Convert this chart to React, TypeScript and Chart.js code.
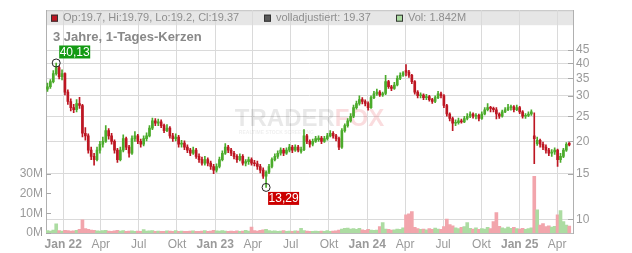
import React, { useEffect, useRef } from 'react';
import { Chart, registerables } from 'chart.js';

Chart.register(...registerables);

const FONT = "'Liberation Sans', Arial, sans-serif";

// Weekly candles starting with the week of 22 Nov 2021
const startDate = '2021-11-22';
const tickDates = [
  '2022-01-01', '2022-04-01', '2022-07-01', '2022-10-01',
  '2023-01-01', '2023-04-01', '2023-07-01', '2023-10-01',
  '2024-01-01', '2024-04-01', '2024-07-01', '2024-10-01',
  '2025-01-01', '2025-04-01',
];
const tickLabels = ['Jan 22', 'Apr', 'Jul', 'Okt', 'Jan 23', 'Apr', 'Jul', 'Okt', 'Jan 24', 'Apr', 'Jul', 'Okt', 'Jan 25', 'Apr'];
const priceTicks = [10, 15, 20, 25, 30, 35, 40, 45];
const volumeTicks = [0, 10, 20, 30];

const open = [
  31.8, 32.5, 34.0, 36.5, 38.5, 35.5, 36.5, 31.0, 28.5, 27.0,
  26.5, 28.0, 27.5, 21.5, 21.0, 18.5, 17.5, 17.0, 18.5, 19.5,
  20.0, 22.0, 21.0, 20.0, 18.5, 17.0, 18.5, 20.5, 19.0, 18.0,
  20.5, 21.0, 20.0, 19.5, 20.5, 21.0, 22.5, 24.0, 23.5, 23.8,
  23.0, 22.0, 22.5, 21.0, 20.5, 20.8, 19.5, 19.7, 19.0, 18.5,
  18.0, 18.5, 17.5, 17.0, 16.5, 17.0, 16.5, 16.0, 15.5, 16.0,
  17.0, 18.0, 19.0, 18.5, 18.0, 17.5, 17.0, 17.5, 16.5, 16.7,
  17.0, 16.5, 16.4, 16.0, 15.5, 14.7, 15.2, 16.0, 17.0, 17.5,
  18.0, 18.5, 18.0, 18.5, 19.0, 18.5, 19.0, 18.3, 18.6, 21.0,
  20.0, 19.5, 20.0, 20.3, 20.6, 20.0, 20.5, 21.0, 21.5, 21.0,
  20.5, 19.0, 22.0, 23.0, 24.0, 25.0, 27.0, 28.0, 29.0, 28.5,
  28.0, 27.0, 29.5, 30.5, 31.0, 30.2, 30.6, 34.0, 32.5, 32.0,
  33.0, 35.0, 36.0, 37.5, 37.0, 36.0, 34.0, 31.0, 30.0, 30.2,
  29.5, 29.8, 29.0, 28.5, 29.5, 30.5, 30.0, 27.5, 25.5, 24.5,
  23.5, 23.6, 24.0, 23.8, 24.5, 25.0, 25.5, 25.0, 25.2, 24.5,
  25.5, 26.5, 27.0, 26.8, 26.5, 25.5, 25.0, 26.0, 26.5, 27.0,
  27.2, 26.5, 27.0, 26.0, 25.0, 25.2, 25.5, 21.0, 19.6, 20.2,
  19.5, 19.0, 18.5, 18.0, 18.2, 18.5, 17.0, 17.5, 18.5, 19.7,
];
const high = [
  33.6, 34.6, 37.5, 40.13, 39.0, 37.8, 36.8, 31.6, 29.2, 27.8,
  29.0, 29.6, 27.8, 22.6, 21.4, 19.0, 18.0, 19.0, 20.0, 20.8,
  23.0, 22.4, 21.5, 20.3, 18.8, 19.0, 21.2, 20.8, 19.3, 21.0,
  21.8, 21.3, 20.4, 21.0, 21.6, 23.0, 24.6, 24.5, 24.4, 24.2,
  23.3, 23.2, 22.8, 21.5, 21.4, 21.1, 20.2, 20.1, 19.4, 18.8,
  19.0, 18.8, 17.9, 17.4, 17.5, 17.3, 16.8, 16.3, 16.4, 17.4,
  18.4, 19.6, 19.3, 18.8, 18.3, 17.8, 17.9, 17.8, 17.0, 17.4,
  17.3, 16.9, 16.8, 16.3, 15.8, 15.4, 16.3, 17.3, 17.9, 18.4,
  18.9, 18.8, 18.9, 19.5, 19.3, 19.4, 19.3, 19.0, 22.2, 21.3,
  20.3, 20.4, 20.9, 21.0, 20.9, 20.9, 21.5, 22.0, 21.8, 21.3,
  20.8, 22.4, 23.4, 24.5, 25.6, 27.6, 28.6, 30.0, 29.5, 28.9,
  28.4, 30.0, 31.2, 31.8, 31.4, 31.0, 36.0, 34.4, 32.9, 33.8,
  35.8, 36.8, 37.2, 39.6, 37.6, 36.3, 34.3, 31.4, 30.8, 30.5,
  30.4, 30.1, 29.3, 30.0, 31.2, 31.0, 30.3, 27.8, 25.8, 24.8,
  24.2, 24.6, 24.4, 25.0, 25.6, 26.0, 25.8, 25.6, 25.5, 26.0,
  27.0, 28.0, 27.3, 27.1, 27.0, 25.8, 26.4, 27.0, 27.8, 27.6,
  27.5, 27.6, 27.3, 26.3, 25.6, 26.0, 26.5, 25.8, 20.8, 20.4,
  19.9, 19.4, 18.8, 18.6, 18.9, 18.7, 18.0, 18.8, 19.8, 19.79,
];
const low = [
  31.2, 32.0, 33.6, 36.0, 34.8, 34.5, 30.2, 27.8, 26.2, 25.8,
  26.0, 26.8, 20.8, 20.2, 18.0, 17.0, 16.2, 16.8, 18.0, 19.0,
  19.8, 20.4, 19.5, 18.0, 16.6, 16.8, 18.2, 18.6, 17.4, 17.8,
  20.0, 19.6, 19.0, 19.2, 20.1, 20.8, 22.2, 23.0, 23.0, 22.6,
  21.6, 21.8, 20.6, 20.0, 20.1, 19.0, 19.0, 18.6, 18.1, 17.6,
  17.8, 17.2, 16.6, 16.2, 16.2, 16.1, 15.6, 15.0, 15.2, 15.8,
  16.8, 17.8, 18.1, 17.6, 17.1, 16.6, 16.8, 16.2, 16.1, 16.3,
  16.2, 16.1, 15.6, 15.1, 14.4, 13.29, 15.0, 15.8, 16.8, 17.2,
  17.7, 17.6, 17.8, 18.2, 18.1, 18.3, 18.2, 18.0, 18.4, 19.6,
  19.0, 19.2, 19.8, 20.0, 19.6, 19.8, 20.2, 20.8, 20.6, 20.1,
  18.6, 18.8, 21.7, 22.7, 23.7, 24.7, 26.6, 27.6, 27.9, 27.4,
  26.4, 26.8, 29.2, 30.1, 29.8, 29.8, 30.3, 32.0, 31.4, 31.7,
  32.7, 34.6, 35.6, 35.8, 35.3, 33.4, 30.4, 29.4, 29.4, 29.0,
  29.0, 28.6, 28.0, 28.2, 29.2, 29.4, 27.0, 25.0, 24.0, 22.0,
  23.0, 23.3, 23.5, 23.6, 24.2, 24.7, 24.6, 24.4, 24.0, 24.3,
  25.3, 26.2, 26.0, 26.0, 24.4, 24.5, 24.8, 25.8, 26.3, 26.4,
  26.0, 26.3, 25.6, 24.6, 24.5, 24.9, 25.2, 16.4, 19.3, 19.0,
  18.6, 18.0, 17.6, 17.5, 17.8, 16.0, 16.6, 17.3, 18.3, 19.2,
];
const close = [
  32.5, 34.0, 36.5, 38.5, 35.5, 36.5, 31.0, 28.5, 27.0, 26.5,
  28.0, 27.5, 21.5, 21.0, 18.5, 17.5, 17.0, 18.5, 19.5, 20.0,
  22.0, 21.0, 20.0, 18.5, 17.0, 18.5, 20.5, 19.0, 18.0, 20.5,
  21.0, 20.0, 19.5, 20.5, 21.0, 22.5, 24.0, 23.5, 23.8, 23.0,
  22.0, 22.5, 21.0, 20.5, 20.8, 19.5, 19.7, 19.0, 18.5, 18.0,
  18.5, 17.5, 17.0, 16.5, 17.0, 16.5, 16.0, 15.5, 16.0, 17.0,
  18.0, 19.0, 18.5, 18.0, 17.5, 17.0, 17.5, 16.5, 16.7, 17.0,
  16.5, 16.4, 16.0, 15.5, 14.7, 15.2, 16.0, 17.0, 17.5, 18.0,
  18.5, 18.0, 18.5, 19.0, 18.5, 19.0, 18.5, 18.6, 21.0, 20.0,
  19.5, 20.0, 20.5, 20.6, 20.0, 20.5, 21.0, 21.5, 21.0, 20.5,
  19.0, 22.0, 23.0, 24.0, 25.0, 27.0, 28.0, 29.0, 28.5, 28.0,
  27.0, 29.5, 30.5, 31.0, 30.2, 30.6, 34.0, 32.5, 32.0, 33.0,
  35.0, 36.0, 36.8, 37.0, 36.0, 34.0, 31.0, 30.0, 30.2, 29.5,
  29.8, 29.0, 28.5, 29.5, 30.5, 30.0, 27.5, 25.5, 24.5, 23.5,
  23.6, 24.0, 23.8, 24.5, 25.0, 25.5, 25.0, 25.2, 24.5, 25.5,
  26.5, 27.0, 26.8, 26.5, 25.5, 25.0, 26.0, 26.5, 27.0, 27.2,
  26.5, 27.0, 26.0, 25.0, 25.2, 25.5, 26.0, 20.5, 20.2, 19.5,
  19.0, 18.5, 18.0, 18.2, 18.5, 17.0, 17.5, 18.5, 19.5, 19.37,
];
// volume in millions
const volume = [
  1.2, 1.0, 1.5, 4.6, 1.2, 1.0, 1.3, 1.2, 1.0, 1.1,
  1.3, 1.8, 6.6, 2.2, 1.8, 1.5, 1.3, 1.1, 1.0, 1.2,
  1.4, 1.0, 0.9, 1.1, 1.3, 1.0, 1.2, 0.9, 1.0, 1.1,
  0.8, 1.0, 0.9, 1.7, 1.0, 1.1, 1.2, 0.9, 1.0, 0.8,
  0.9, 1.1, 1.0, 0.9, 1.2, 0.9, 1.0, 0.8, 0.9, 1.0,
  1.1, 0.9, 0.8, 1.0, 1.2, 0.9, 1.0, 1.3, 1.1, 1.0,
  1.2, 1.0, 0.9, 1.0, 0.9, 1.1, 0.8, 1.0, 1.3, 1.0,
  3.0, 1.2, 1.0, 1.3, 1.6, 1.8, 1.2, 1.0, 1.1, 0.9,
  1.0, 1.2, 0.9, 1.0, 0.8, 1.1, 1.0, 2.3, 1.2, 1.0,
  0.9, 0.8, 1.0, 0.9, 1.0, 0.8, 1.2, 0.9, 1.0, 1.1,
  1.5, 2.0, 2.3, 2.5, 2.0, 2.2, 1.8, 2.4, 1.6, 1.4,
  1.8, 1.5, 1.3, 1.5, 3.3, 5.3, 2.0, 1.8, 1.5, 1.6,
  2.0, 1.8, 2.6, 9.2, 9.7, 10.8, 2.8, 2.2, 1.8, 2.0,
  1.6, 2.2, 1.8, 2.5, 2.0, 1.8, 3.2, 7.0, 4.2, 3.6,
  2.6, 2.2, 2.8, 3.2, 5.3, 2.4, 2.0, 2.6, 1.8, 2.2,
  2.0, 2.8, 2.2, 5.8, 10.3, 3.4, 2.6, 2.2, 3.0, 2.4,
  2.8, 2.2, 2.0, 2.4, 1.8, 2.2, 2.6, 28.6, 11.7, 4.0,
  4.7, 3.2, 3.6, 3.0, 3.4, 9.2, 11.3, 5.8, 4.0, 3.5,
];

const DAY = 86400000;
const dayOf = (d: string) => (Date.parse(d) - Date.parse(startDate)) / DAY;
const tickDays = tickDates.map(dayOf);
const weekX = open.map((_, i) => 7 * i + 2);

const RED = '#bd1622';
const GREEN = '#4bab2b';
const VRED = '#f2a5ac';
const VGREEN = '#acdca2';
const GRID = '#dadada';

const decor = {
  id: 'decor',
  beforeDraw(chart: any) {
    const { ctx, chartArea: a } = chart;
    ctx.save();
    ctx.fillStyle = '#e6e6e6';
    ctx.fillRect(a.left, a.top, a.right - a.left, 15);
    ctx.strokeStyle = '#c4c4c4';
    ctx.lineWidth = 1;
    ctx.beginPath();
    ctx.moveTo(a.left, a.top + 0.5);
    ctx.lineTo(a.right, a.top + 0.5);
    ctx.stroke();
    ctx.restore();
  },
  beforeDatasetsDraw(chart: any) {
    const { ctx, chartArea: a } = chart;
    const cx = (a.left + a.right) / 2;
    const cy = (a.top + a.bottom) / 2;
    ctx.save();
    ctx.font = `bold 24px ${FONT}`;
    ctx.textBaseline = 'alphabetic';
    const w1 = ctx.measureText('TRADER').width;
    const w2 = ctx.measureText('FOX').width;
    const x0 = cx - (w1 + w2) / 2;
    ctx.fillStyle = 'rgba(0,0,0,0.09)';
    ctx.fillText('TRADER', x0, cy + 4.5);
    ctx.fillStyle = 'rgba(230,60,70,0.18)';
    ctx.fillText('FOX', x0 + w1, cy + 4.5);
    ctx.font = `bold 5px ${FONT}`;
    ctx.fillStyle = 'rgba(0,0,0,0.07)';
    ctx.fillText('REALTIME STOCK SCREENING', x0 + 4, cy + 12);
    ctx.restore();
  },
  afterDatasetsDraw(chart: any) {
    const { ctx } = chart;
    const xs = chart.scales.x;
    const ys = chart.scales.yPrice;
    const hiVal = Math.max(...high);
    const loVal = Math.min(...low);
    const hiIdx = high.indexOf(hiVal);
    const loIdx = low.indexOf(loVal);
    ctx.save();
    ctx.font = `12px ${FONT}`;
    ctx.textBaseline = 'middle';
    ctx.textAlign = 'center';
    // high marker
    let x = xs.getPixelForValue(weekX[hiIdx]);
    let y = ys.getPixelForValue(hiVal);
    ctx.strokeStyle = '#222';
    ctx.lineWidth = 1;
    ctx.beginPath();
    ctx.arc(x, y, 4, 0, Math.PI * 2);
    ctx.stroke();
    ctx.fillStyle = '#149a14';
    ctx.fillRect(x + 3, y - 17.5, 31, 13);
    ctx.fillStyle = '#fff';
    ctx.fillText(hiVal.toFixed(2).replace('.', ','), x + 18.5, y - 10.5);
    // low marker
    x = xs.getPixelForValue(weekX[loIdx]);
    y = ys.getPixelForValue(loVal);
    ctx.beginPath();
    ctx.arc(x, y, 4, 0, Math.PI * 2);
    ctx.stroke();
    ctx.fillStyle = '#cc0000';
    ctx.fillRect(x + 2, y + 4.5, 31, 13);
    ctx.fillStyle = '#fff';
    ctx.fillText(loVal.toFixed(2).replace('.', ','), x + 17.5, y + 11.5);
    ctx.restore();
  },
  afterDraw(chart: any) {
    const { ctx, chartArea: a } = chart;
    const n = close.length - 1;
    ctx.save();
    // inward tick marks
    ctx.strokeStyle = '#a8a8a8';
    ctx.lineWidth = 1;
    const yv = chart.scales.yVol;
    yv.ticks.forEach((t: any) => {
      const py = Math.round(yv.getPixelForValue(t.value)) + 0.5;
      ctx.beginPath();
      ctx.moveTo(a.left, py);
      ctx.lineTo(a.left + 5, py);
      ctx.stroke();
    });
    const yp = chart.scales.yPrice;
    yp.ticks.forEach((t: any) => {
      const py = Math.round(yp.getPixelForValue(t.value)) + 0.5;
      ctx.beginPath();
      ctx.moveTo(a.right - 5, py);
      ctx.lineTo(a.right, py);
      ctx.stroke();
    });
    // header legend
    ctx.font = `11px ${FONT}`;
    ctx.textBaseline = 'middle';
    ctx.textAlign = 'left';
    const hy = a.top + 8;
    const items = [
      { fill: RED, text: `Op:${open[n]}, Hi:${high[n]}, Lo:${low[n]}, Cl:${close[n]}`, x: a.left + 5 },
      { fill: '#5a5a5a', text: `volladjustiert: ${close[n]}`, x: a.left + 218 },
      { fill: VGREEN, text: `Vol: ${(1.842).toFixed(3)}M`, x: a.left + 350 },
    ];
    items.forEach((it) => {
      ctx.fillStyle = it.fill;
      ctx.fillRect(it.x, hy - 3.5, 7, 7);
      ctx.strokeStyle = '#333';
      ctx.strokeRect(it.x + 0.5, hy - 3.5 + 0.5, 6, 6);
      ctx.fillStyle = '#8e8e8e';
      ctx.fillText(it.text, it.x + 12, hy);
    });
    // title
    ctx.font = `bold 13px ${FONT}`;
    ctx.fillStyle = '#888';
    ctx.textBaseline = 'alphabetic';
    ctx.fillText('3 Jahre, 1-Tages-Kerzen', a.left + 7, a.top + 30.5);
    ctx.restore();
  },
};

export default function App() {
  const ref = useRef<HTMLCanvasElement>(null);
  useEffect(() => {
    if (!ref.current) return;
    Chart.defaults.font.family = FONT;
    const up = close.map((c, i) => c >= open[i]);
    const candleColor = up.map((u) => (u ? GREEN : RED));
    const volColor = up.map((u) => (u ? VGREEN : VRED));
    const chart = new Chart(ref.current, {
      type: 'bar',
      data: {
        datasets: [
          {
            label: 'Kerzen',
            data: weekX.map((x, i) => ({ x, y: [open[i], close[i]] })) as any,
            backgroundColor: candleColor,
            barThickness: 2,
            minBarLength: 1,
            grouped: false,
            yAxisID: 'yPrice',
            order: 1,
          },
          {
            label: 'Docht',
            data: weekX.map((x, i) => ({ x, y: [low[i], high[i]] })) as any,
            backgroundColor: candleColor,
            barThickness: 1,
            grouped: false,
            yAxisID: 'yPrice',
            order: 2,
          },
          {
            label: 'Volumen',
            data: weekX.map((x, i) => ({ x, y: volume[i] })) as any,
            backgroundColor: volColor,
            barThickness: 3,
            grouped: false,
            yAxisID: 'yVol',
            order: 3,
          },
        ],
      },
      options: {
        responsive: false,
        animation: false,
        devicePixelRatio: 1,
        layout: { padding: { top: 8, left: 0, right: 0, bottom: 0 } },
        plugins: { legend: { display: false }, tooltip: { enabled: false } },
        scales: {
          x: {
            type: 'linear',
            offset: false,
            bounds: 'data',
            min: -1.5,
            max: 1264,
            grid: { color: GRID, offset: false, drawTicks: false },
            border: { display: true, color: '#bbbbbb' },
            afterBuildTicks: (s: any) => {
              s.ticks = tickDays.map((v) => ({ value: v }));
            },
            afterFit: (s: any) => {
              s.height = 20;
            },
            ticks: {
              autoSkip: false,
              maxRotation: 0,
              padding: 4,
              color: '#9a9a9a',
              font: (c: any) => ({
                family: FONT,
                size: 12,
                weight: (tickLabels[c.index] || '').startsWith('Jan') ? 'bold' : 'normal',
              }),
              callback: (_v: any, i: number) => tickLabels[i],
            },
          },
          yPrice: {
            type: 'logarithmic',
            position: 'right',
            min: 8.865,
            max: 64.13,
            bounds: 'data',
            grid: { color: GRID, drawTicks: false },
            border: { display: true, color: '#b0b0b0' },
            afterBuildTicks: (s: any) => {
              s.ticks = priceTicks.map((v) => ({ value: v }));
            },
            afterFit: (s: any) => {
              s.width = 59;
            },
            ticks: {
              padding: 3,
              color: '#9a9a9a',
              font: { size: 12, family: FONT },
              callback: (v: any) => String(v),
            },
          },
          yVol: {
            type: 'linear',
            position: 'left',
            min: 0,
            max: 112.5,
            bounds: 'data',
            grid: { display: false, drawTicks: false },
            border: { display: true, color: '#b0b0b0' },
            afterBuildTicks: (s: any) => {
              s.ticks = volumeTicks.map((v) => ({ value: v }));
            },
            afterFit: (s: any) => {
              s.width = 46;
            },
            ticks: {
              padding: 3,
              color: '#9a9a9a',
              font: { size: 12, family: FONT },
              callback: (v: any) => `${v}M`,
            },
          },
        },
      } as any,
      plugins: [decor],
    });
    return () => chart.destroy();
  }, []);
  return (
    <div style={{ position: 'absolute', left: 0, top: 0, width: 632, height: 253 }}>
      <canvas ref={ref} width={632} height={253} style={{ display: 'block' }} />
    </div>
  );
}
